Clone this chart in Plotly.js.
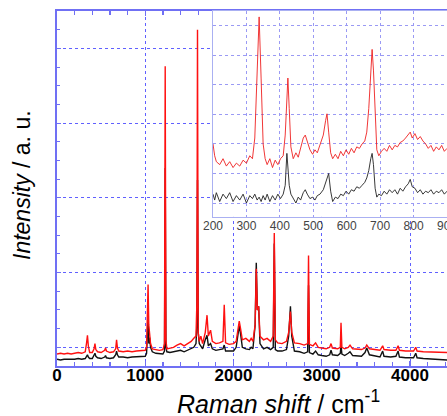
<!DOCTYPE html>
<html><head><meta charset="utf-8">
<script src="https://cdn.plot.ly/plotly-3.0.1.min.js"></script>
<style>html,body{margin:0;padding:0;background:#fff}#chart{width:447px;height:416px}</style>
</head><body><div id="chart"></div>
<script>
// Main spectrum (Raman shift in cm^-1, intensity in a.u.)
const ramanShift = [0,40,80,120,160,200,240,280,320,335,345,355,370,400,420,430,440,460,500,540,550,560,600,640,665,675,685,700,750,800,850,900,950,1000,1015,1025,1032,1040,1050,1060,1080,1120,1160,1200,1218,1226,1234,1245,1280,1320,1360,1400,1440,1480,1520,1550,1575,1585,1592,1600,1612,1630,1650,1680,1700,1715,1740,1760,1800,1840,1880,1895,1910,1950,2000,2030,2050,2065,2080,2100,2140,2180,2200,2220,2245,2258,2270,2285,2300,2340,2380,2420,2450,2462,2474,2500,2550,2600,2625,2645,2660,2690,2750,2800,2840,2850,2860,2900,2930,2960,3000,3050,3090,3105,3120,3180,3210,3218,3228,3260,3300,3320,3350,3400,3450,3490,3510,3540,3600,3660,3690,3705,3780,3840,3865,3880,3950,4040,4065,4080,4150,4250,4350,4420];
const redIntensity = [-0.09,-0.08,-0.09,-0.08,-0.09,-0.08,-0.07,-0.08,-0.06,0.06,0.16,0.02,-0.07,-0.07,-0.02,0.05,-0.03,-0.06,-0.07,-0.04,-0.01,-0.05,-0.07,-0.06,-0.02,0.10,-0.01,-0.05,-0.06,-0.05,-0.06,-0.05,-0.05,-0.04,0.0,0.5,0.84,0.3,0.15,0.05,-0.02,-0.03,-0.04,-0.03,0.05,3.76,0.1,-0.02,-0.01,0.0,0.03,0.05,0.02,0.05,0.08,0.12,0.15,0.6,4.25,0.2,0.08,0.15,0.05,0.2,0.43,0.15,0.23,0.08,0.05,0.06,0.08,0.57,0.06,0.04,0.05,0.08,0.25,0.35,0.25,0.1,0.12,0.08,0.12,0.08,0.3,1.05,0.5,0.55,0.15,0.1,0.12,0.08,0.15,1.53,0.1,0.06,0.05,0.08,0.2,0.48,0.2,0.06,0.05,0.03,0.05,1.23,0.04,0.02,0.06,0.0,-0.01,-0.02,0.0,0.05,-0.01,-0.02,0.0,0.33,0.0,-0.02,0.0,0.03,-0.02,-0.03,-0.03,-0.01,0.03,-0.02,-0.03,-0.04,0.02,-0.03,-0.04,-0.04,0.02,-0.04,-0.05,-0.05,0.0,-0.05,-0.06,-0.06,-0.07,-0.07];
const blackIntensity = [-0.16,-0.17,-0.16,-0.16,-0.17,-0.16,-0.15,-0.16,-0.15,-0.12,-0.10,-0.13,-0.15,-0.15,-0.11,-0.08,-0.12,-0.14,-0.15,-0.13,-0.11,-0.14,-0.15,-0.14,-0.10,-0.05,-0.10,-0.13,-0.13,-0.14,-0.13,-0.13,-0.13,-0.12,-0.08,0.15,0.40,0.05,0.13,0.0,-0.06,-0.08,-0.09,-0.09,-0.05,2.4,0.0,-0.06,-0.07,-0.06,-0.05,-0.04,-0.06,-0.04,-0.02,0.0,0.05,0.3,2.24,0.2,0.05,0.02,-0.02,0.1,0.16,0.02,0.05,-0.02,-0.04,-0.03,-0.02,0.03,-0.05,-0.05,-0.05,0.0,0.2,0.29,0.18,0.0,-0.02,-0.03,0.0,-0.02,0.3,1.13,0.5,0.55,0.05,-0.02,0.0,-0.03,0.0,1.39,-0.03,-0.05,-0.05,-0.03,0.15,0.55,0.15,-0.05,-0.06,-0.08,-0.06,0.83,-0.07,-0.09,-0.05,-0.1,-0.11,-0.12,-0.1,-0.04,-0.1,-0.11,-0.08,0.03,-0.09,-0.11,-0.08,-0.06,-0.11,-0.12,-0.12,-0.07,-0.01,-0.1,-0.12,-0.13,-0.05,-0.12,-0.13,-0.12,-0.05,-0.13,-0.14,-0.14,-0.08,-0.14,-0.15,-0.16,-0.16,-0.17];

// Inset spectrum (low wavenumber region)
const insetShift = [200,205,210,220,230,240,250,260,270,280,290,300,310,318,325,332,338,344,350,356,362,370,378,386,394,402,410,416,421,424,428,433,440,448,455,462,470,476,482,490,498,505,512,520,530,537,541,546,552,558,566,574,582,590,598,606,614,622,630,638,646,654,660,666,672,676,680,685,690,696,704,712,720,728,736,744,752,760,768,776,784,790,796,804,812,820,828,836,844,852,860,868,876,884,892,900];
const insetRed = [2.0,1.6,1.4,1.3,1.5,1.25,1.4,1.2,1.35,1.25,1.45,1.35,1.6,1.5,2.2,4.5,6.3,4.2,2.0,1.5,1.3,1.5,1.2,1.45,1.3,1.5,1.6,2.3,3.6,4.23,3.2,1.9,1.5,1.7,1.55,1.9,2.2,2.3,2.1,1.8,1.65,1.8,1.7,1.95,2.3,2.8,3.02,2.4,1.7,1.5,1.65,1.5,1.75,1.6,1.8,1.65,1.85,1.7,1.9,1.85,2.0,2.1,2.4,3.2,4.6,5.2,4.5,2.8,1.8,1.6,1.75,1.85,1.75,1.95,1.8,1.95,1.9,2.05,2.1,2.2,2.3,2.4,2.2,2.35,2.15,2.25,2.1,2.0,1.85,1.95,1.75,1.9,1.8,1.95,1.75,1.85];
const insetBlack = [0.3,0.1,0.35,0.05,0.3,0.15,0.35,0.05,0.25,0.1,0.3,0.0,0.25,0.15,0.3,0.1,0.2,0.05,0.25,0.1,0.3,0.05,0.25,0.1,0.3,0.15,0.3,0.6,1.68,1.2,0.6,0.3,0.15,0.0,0.2,0.1,0.35,0.45,0.3,0.15,0.2,0.1,0.25,0.3,0.45,0.7,0.85,1.0,0.4,0.05,0.2,0.15,0.3,0.25,0.4,0.3,0.45,0.4,0.55,0.5,0.6,0.7,0.85,1.1,1.5,1.68,1.3,0.5,0.2,0.3,0.25,0.4,0.3,0.45,0.35,0.45,0.3,0.5,0.4,0.55,0.65,0.8,0.55,0.5,0.35,0.45,0.3,0.4,0.35,0.45,0.3,0.4,0.35,0.45,0.3,0.4];

const mainTicks = [0,1000,2000,3000,4000];
const mainTickText = ['0','1000','2000','3000','4000'];
const insetTicks = [200,300,400,500,600,700,800,900];
const insetTickText = ['200','300','400','500','600','700','800','900'];
const xTitle = '<i>Raman shift</i> / cm<sup>-1</sup>';
const yTitle = '<i>Intensity</i> / a. u.';

const traces = [
  {x: ramanShift, y: blackIntensity, type:'scatter', mode:'lines', line:{color:'#111111', width:1.4}, xaxis:'x', yaxis:'y', hoverinfo:'skip'},
  {x: ramanShift, y: redIntensity, type:'scatter', mode:'lines', line:{color:'#ff1010', width:1.4}, xaxis:'x', yaxis:'y', hoverinfo:'skip'},
  {x: insetShift, y: insetBlack, type:'scatter', mode:'lines', line:{color:'#222222', width:0.9}, xaxis:'x2', yaxis:'y2', hoverinfo:'skip'},
  {x: insetShift, y: insetRed, type:'scatter', mode:'lines', line:{color:'#ee2020', width:0.9}, xaxis:'x2', yaxis:'y2', hoverinfo:'skip'}
];

const axisBlue = '#7070f4';
const gridBlue = '#6060ff';
const layout = {
  width: 447, height: 416,
  margin: {l:57, r:0, t:11, b:50},
  paper_bgcolor:'#ffffff', plot_bgcolor:'#ffffff',
  showlegend:false,
  font:{family:'Liberation Sans, Arial, sans-serif', color:'#000'},
  xaxis: {
    domain:[0,1], range:[0,4419], anchor:'y',
    tickmode:'array', tickvals: mainTicks, ticktext: mainTickText,
    ticks:'inside', ticklen:5, tickwidth:1.2, tickcolor:axisBlue,
    minor:{dtick:200, tick0:0, ticks:'inside', ticklen:4, tickcolor:axisBlue, showgrid:false},
    showline:true, linecolor:axisBlue, linewidth:2, mirror:'allticks',
    showgrid:true, gridcolor:gridBlue, griddash:'dot', gridwidth:1,
    zeroline:false, ticklabelstandoff:-7,
    tickfont:{size:17, weight:'bold', color:'#000'}
  },
  yaxis: {
    domain:[0,1], range:[-0.25,4.5], anchor:'x',
    tick0:0, dtick:1,
    ticks:'inside', ticklen:4, tickcolor:axisBlue,
    minor:{dtick:0.25, tick0:0, ticks:'inside', ticklen:3, tickcolor:axisBlue, showgrid:false},
    showline:true, linecolor:axisBlue, linewidth:2, mirror:false,
    showgrid:true, gridcolor:gridBlue, griddash:'dot', gridwidth:1,
    zeroline:false, showticklabels:false
  },
  xaxis2: {
    domain:[0.4,1], range:[200,900], anchor:'y2',
    tickmode:'array', tickvals: insetTicks, ticktext: insetTickText,
    ticks:'', showline:true, linecolor:'#aab0f2', linewidth:1.5, mirror:true,
    showgrid:true, gridcolor:'#9a9af4', griddash:'dot', gridwidth:1,
    zeroline:false, ticklabeloverflow:'allow', ticklabelstandoff:-3,
    tickfont:{size:12, color:'#444'}
  },
  yaxis2: {
    domain:[0.42,1], range:[-0.47,6.5], anchor:'x2',
    tick0:0, dtick:1, ticks:'', showticklabels:false,
    showline:true, linecolor:'#aab0f2', linewidth:1.5, mirror:true,
    showgrid:true, gridcolor:'#9a9af4', griddash:'dot', gridwidth:1,
    zeroline:false
  },
  annotations: [
    {text: xTitle, xref:'paper', yref:'paper', x:(278-57)/390, y:-(402-366)/355, xanchor:'center', yanchor:'middle', showarrow:false, font:{size:25, color:'#000'}},
    {text: yTitle, xref:'paper', yref:'paper', x:-(57-22)/390, y:(366-185)/355, xanchor:'center', yanchor:'middle', textangle:-90, showarrow:false, font:{size:23, color:'#000'}}
  ]
};

Plotly.newPlot('chart', traces, layout, {staticPlot:true, displayModeBar:false});
</script>
</body></html>
